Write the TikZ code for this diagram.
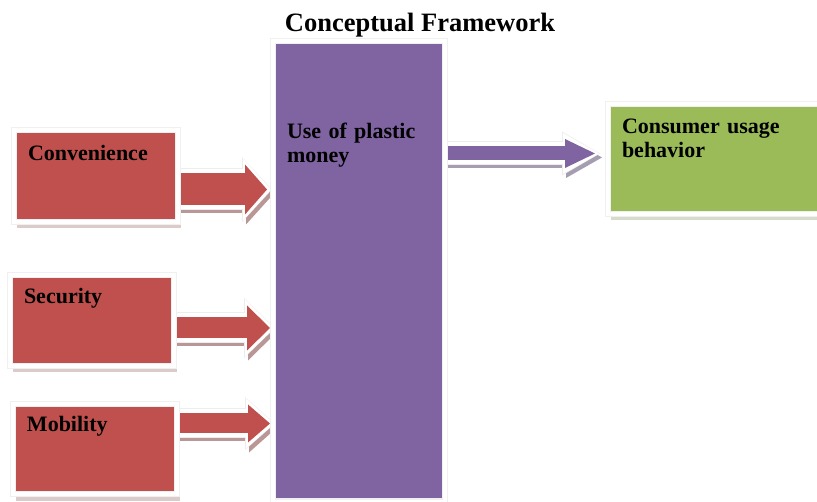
\documentclass[tikz,border=0pt]{standalone}
\usepackage{fontspec}
\setmainfont{Liberation Serif}
\usetikzlibrary{arrows.meta,shadows,backgrounds}
\definecolor{factor}{HTML}{C0504D}
\definecolor{usage}{HTML}{8064A2}
\definecolor{outcome}{HTML}{9BBB59}
\newcommand\boxfont{\fontsize{22}{24.5}\selectfont\bfseries}
\tikzset{
  box/.style={anchor=north west, fill=#1, draw=black!6, double=white,
    double distance=4pt, line width=1pt, inner xsep=14.5pt, inner ysep=0pt,
    align=left, font=\boxfont,
    drop shadow={shadow xshift=3pt, shadow yshift=-6pt, fill=#1!60!black!50!white}},
}

\begin{document}
\begin{tikzpicture}[x=1pt, y=-1pt]
  \useasboundingbox (0,0) rectangle (817,502);
  \node[font=\fontsize{26.5}{30}\selectfont\bfseries, anchor=base] (title) at (420,32) {Conceptual Framework};

  % factors on the left
  \node[box=factor, text width=135pt, text height=30pt, text depth=62pt] (conv) at (13,130) {Convenience};
  \node[box=factor, text width=135pt, text height=28pt, text depth=63pt] (sec) at (9,275) {Security};
  \node[box=factor, text width=135pt, text height=27pt, text depth=63pt] (mob) at (12,404) {Mobility};

  % middle and outcome
  \node[box=usage, text width=143pt, text height=97pt, text depth=363pt] (use) at (272,41) {Use of plastic\\money};
  \node[box=outcome, text width=201pt, text height=29pt, text depth=81pt] (cons) at (607,104) {Consumer usage\\behavior};

  % block arrows
  \begin{scope}[on background layer]
    \foreach \a/\b/\dy/\s/\w/\l/\gap/\c
      [evaluate=\s as \sA using \s+8, evaluate=\w as \wA using \w+12,
       evaluate=\l as \lA using \l+6, evaluate=\gap as \gA using \gap-4,
       evaluate=\s as \sB using \s+10, evaluate=\w as \wB using \w+15,
       evaluate=\l as \lB using \l+8, evaluate=\gap as \gB using \gap-5]
      in {conv/use/-13pt/32/50/22/5/factor, sec/use/-7pt/21/45/23/2/factor,
          mob/use/26pt/20/38/22/2/factor, use/cons/118pt/14/29/30/12/usage}
    {
      \draw[transform canvas={xshift=3pt, yshift=-4pt}, draw=\c!60!black!50!white, line width=\sA pt,
        shorten >=\gA pt, -{Triangle[length=\lA pt, width=\wA pt, line width=0pt]}]
        ([yshift=\dy]\a.east) -- ([yshift=\dy]\a.east -| \b.west);
      \draw[draw=black!7, line width=\sB pt, shorten >=\gB pt,
        -{Triangle[length=\lB pt, width=\wB pt, line width=0pt]}]
        ([yshift=\dy]\a.east) -- ([yshift=\dy]\a.east -| \b.west);
      \draw[draw=white, line width=\sA pt, shorten >=\gA pt,
        -{Triangle[length=\lA pt, width=\wA pt, line width=0pt]}]
        ([yshift=\dy]\a.east) -- ([yshift=\dy]\a.east -| \b.west);
      \draw[draw=\c, line width=\s pt, shorten >=\gap pt,
        -{Triangle[length=\l pt, width=\w pt, line width=0pt]}]
        ([yshift=\dy]\a.east) -- ([yshift=\dy]\a.east -| \b.west);
    }
  \end{scope}
\end{tikzpicture}
\end{document}
